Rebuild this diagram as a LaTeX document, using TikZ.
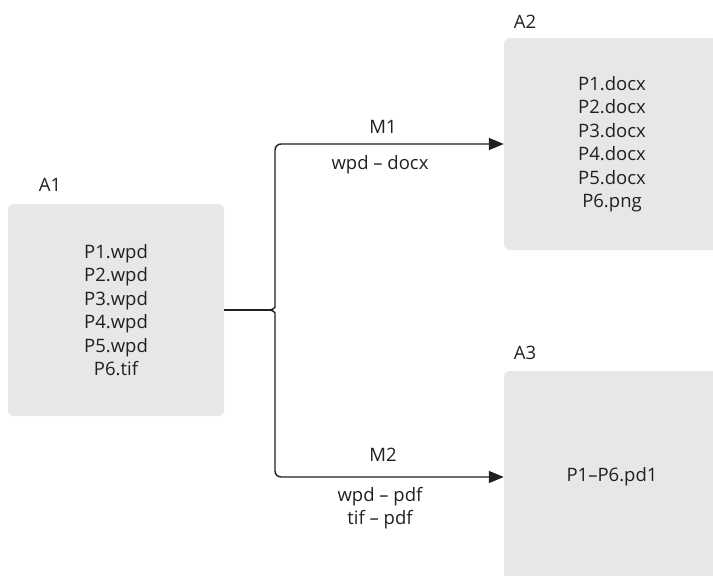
\documentclass[tikz,border=0pt]{standalone}
\usepackage{fontspec}
\setmainfont{Open Sans}
\usepackage{xcolor}
\usetikzlibrary{arrows.meta}
\definecolor{boxgray}{HTML}{E6E7E8}
\definecolor{ink}{HTML}{231F20}

\begin{document}
\begin{tikzpicture}[x=1pt,y=-1pt,
    font=\fontsize{18.5}{23.5}\selectfont,
    every node/.style={text=ink,align=center},
    folder/.style={fill=boxgray,rounded corners=6pt,minimum width=216pt,minimum height=212pt},
    conv/.style={line width=1.4pt,draw=ink,-{Triangle[length=15pt,width=12pt]}},
    plain/.style={line width=1.4pt,draw=ink}]
      \useasboundingbox (0,0) rectangle (713,576);
      \path
      (116,310) node[folder](a1) {P1.wpd\\P2.wpd\\P3.wpd\\P4.wpd\\P5.wpd\\P6.tif}
      (612,144) node[folder](a2) {P1.docx\\P2.docx\\P3.docx\\P4.docx\\P5.docx\\P6.png}
      (612,477) node[folder](a3) {P1--P6.pd1}
      (50,185) node(la1) {A1}
      (525,22) node(la2) {A2}
      (525,353) node(la3) {A3}
      (383,127) node(m1) {M1}
      (380,165) node(r1) {wpd -- docx}
      (383,455) node(m2) {M2}
      (380,508) node(r2) {wpd -- pdf\\tif -- pdf}
      (268,310) coordinate(split)
      (275,144) coordinate(up)
      (275,477) coordinate(down)
      ;

      \draw[plain] (a1.east |- split) -- (split);
      \draw[conv,rounded corners=6pt] (split) .. controls (274,310) and (275,307) .. (275,301) -- (up) -- (a2.west);
      \draw[conv,rounded corners=6pt] (split) .. controls (274,310) and (275,313) .. (275,319) -- (down) -- (a3.west);
    \end{tikzpicture}
\end{document}
